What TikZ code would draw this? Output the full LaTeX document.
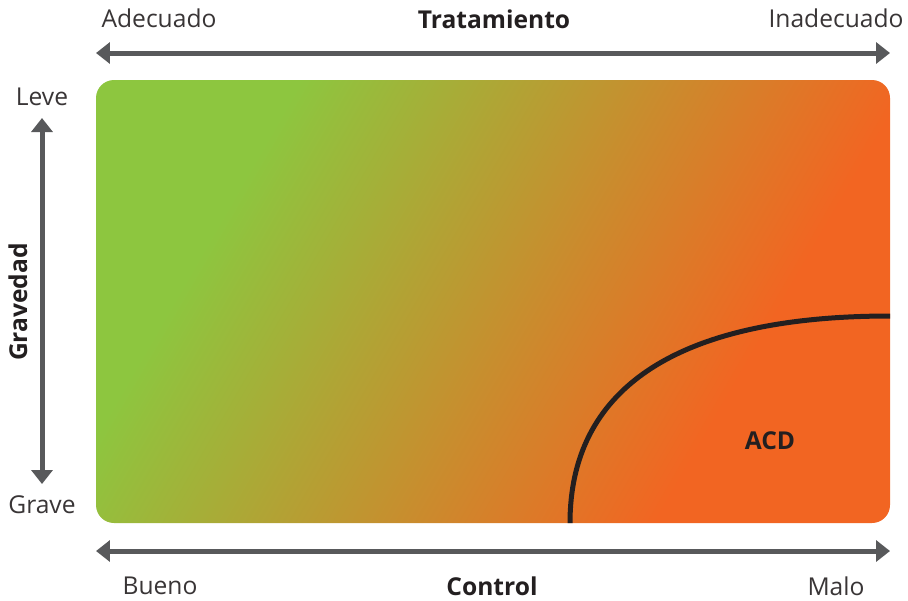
\documentclass[tikz,border=0pt]{standalone}
\usepackage{fontspec}
\setmainfont{Open Sans}
\usepackage{tikz}
\usetikzlibrary{arrows.meta, positioning}

\definecolor{leafgreen}{HTML}{8DC63F}
\definecolor{acdorange}{HTML}{F26522}
\definecolor{axisgray}{HTML}{58595B}
\definecolor{curveblack}{HTML}{231F20}

\pgfdeclarehorizontalshading{gravshade}{100bp}{color(0bp)=(leafgreen); color(29bp)=(leafgreen); color(69bp)=(acdorange); color(100bp)=(acdorange)}

\tikzset{
    axisarrow/.style={draw=axisgray, line width=0.1cm, {Triangle[length=0.28cm, width=0.42cm]}-{Triangle[length=0.28cm, width=0.42cm]}},
    endlabel/.style={font=\fontsize{14}{16}\selectfont, text=curveblack!90},
    titlelabel/.style={font=\fontsize{14}{16}\selectfont\bfseries, text=curveblack}
}

\begin{document}
\begin{tikzpicture}[x=0.02cm, y=-0.02cm]
    \useasboundingbox (0, 0) rectangle (908, 600);
    % panel
    \shade[shading=gravshade, shading angle=-30, rounded corners=0.36cm] (96, 80) rectangle (890, 523);
    \node[titlelabel] (acd) at (770, 441) {ACD};
    \coordinate (curvebot) at (570, 523);
    \coordinate (curveend) at (890, 316);
    \draw[curveblack, line width=0.1cm] (curvebot) .. controls (570, 393) and (670, 316) .. (curveend);
    % top axis
    \node[endlabel] (adecuado) at (159, 18) {Adecuado};
    \node[titlelabel] (tratamiento) at (494, 19) {Tratamiento};
    \node[endlabel] (inadecuado) at (836, 18) {Inadecuado};
    \coordinate (topleft) at (96, 53);
    \coordinate (topright) at (890, 53);
    \draw[axisarrow] (topleft) -- (topright);
    % bottom axis
    \node[endlabel] (bueno) at (160, 586) {Bueno};
    \node[titlelabel] (control) at (492, 586) {Control};
    \node[endlabel] (malo) at (836, 586) {Malo};
    \coordinate (botleft) at (96, 551);
    \coordinate (botright) at (890, 551);
    \draw[axisarrow] (botleft) -- (botright);
    % left axis
    \node[endlabel] (leve) at (42, 97) {Leve};
    \node[endlabel] (grave) at (42, 505) {Grave};
    \node[titlelabel, rotate=90] (gravedad) at (18, 302) {Gravedad};
    \coordinate (vtop) at (42, 118);
    \coordinate (vbot) at (42, 484);
    \draw[axisarrow] (vtop) -- (vbot);
\end{tikzpicture}
\end{document}
